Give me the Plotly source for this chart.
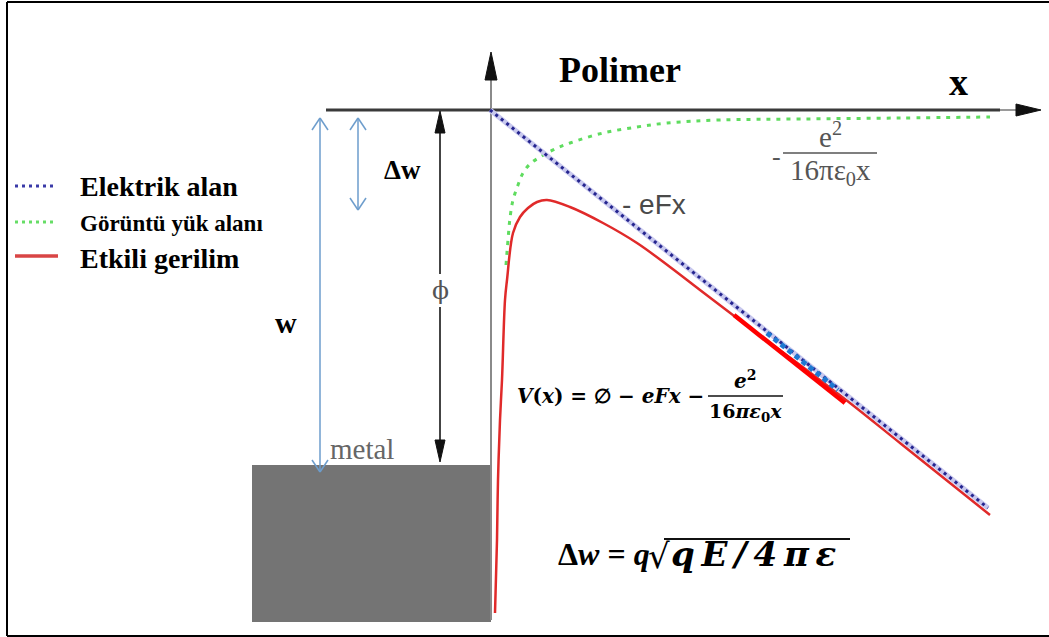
import plotly.graph_objects as go

W, H = 1049, 637

# ---- data (in picture pixel units) ----
red_x = [495, 497, 498, 500, 502, 505, 507, 513, 520, 528, 537, 547, 570, 603, 637, 670, 700, 750, 800, 850, 900, 950, 990]
red_y = [613, 540, 480, 420, 380, 300, 280, 233, 217, 208, 202, 200, 207, 223, 243, 267, 290, 328, 365, 403, 443, 483, 515]

green_x = [506, 508, 510, 513, 518, 523, 530, 540, 555, 570, 603, 637, 667, 720, 800, 900, 990]
green_y = [265, 240, 218, 200, 185, 173, 164, 157, 149, 143, 133, 127, 123, 120, 119, 118, 117]

blue_x = [490, 988]
blue_y = [110, 508]

red_thick_x = [734, 845]
red_thick_y = [315, 403]
blue_thick_x = [767, 838]
blue_thick_y = [333, 390]

legend_labels = ["Elektrik alan", "Görüntü yük alanı", "Etkili gerilim"]

fig = go.Figure()

# legend samples
fig.add_trace(go.Scatter(x=[15, 56], y=[186, 186], mode="lines",
                         line=dict(color="#3a3aa8", width=3, dash="3px,4px"), hoverinfo="skip"))
fig.add_trace(go.Scatter(x=[15, 56], y=[222, 222], mode="lines",
                         line=dict(color="#66dd66", width=3, dash="3px,4px"), hoverinfo="skip"))
fig.add_trace(go.Scatter(x=[15, 58], y=[256, 256], mode="lines",
                         line=dict(color="#d94545", width=3.5), hoverinfo="skip"))

# curves
fig.add_trace(go.Scatter(x=green_x, y=green_y, mode="lines", line_shape="spline",
                         line=dict(color="#5fdc5f", width=3, dash="4px,6px"), hoverinfo="skip"))
fig.add_trace(go.Scatter(x=red_x, y=red_y, mode="lines", line_shape="spline",
                         line=dict(color="#e02a2a", width=2.5), hoverinfo="skip"))
fig.add_trace(go.Scatter(x=blue_x, y=blue_y, mode="lines",
                         line=dict(color="#c8c8ee", width=5), hoverinfo="skip"))
fig.add_trace(go.Scatter(x=blue_x, y=blue_y, mode="lines",
                         line=dict(color="#25258f", width=3, dash="3px,4px"), hoverinfo="skip"))
fig.add_trace(go.Scatter(x=red_thick_x, y=red_thick_y, mode="lines",
                         line=dict(color="#ff0000", width=4.5), hoverinfo="skip"))
fig.add_trace(go.Scatter(x=blue_thick_x, y=blue_thick_y, mode="lines",
                         line=dict(color="#1f78d1", width=5, dash="5px,4px"), hoverinfo="skip"))

shapes = []
def line(x0, y0, x1, y1, color, width):
    shapes.append(dict(type="line", x0=x0, y0=y0, x1=x1, y1=y1, xref="x", yref="y",
                       line=dict(color=color, width=width), layer="below"))
def tri(path, color):
    shapes.append(dict(type="path", path=path, xref="x", yref="y",
                       fillcolor=color, line=dict(color=color, width=1), layer="above"))

# frame
line(7, 2, 1049, 2, "black", 2)
line(7, 2, 7, 636, "black", 2)
line(7, 636, 1049, 636, "black", 2)

# metal block
shapes.append(dict(type="rect", x0=252, y0=465, x1=491, y1=622, xref="x", yref="y",
                   fillcolor="#747474", line=dict(width=0), layer="below"))

# vertical axis
line(491, 620, 491, 78, "#8a8a8a", 2)
tri("M 485 80 L 497 80 L 491 52 Z", "#111111")
# horizontal axis
line(326, 110, 1000, 110, "#3a3a3a", 3)
line(1000, 110, 1018, 110, "#9a9a9a", 2)
tri("M 1016 104 L 1016 116 L 1041 110 Z", "#111111")

# phi arrow
line(440, 130, 440, 274, "#444444", 2)
line(440, 307, 440, 442, "#444444", 2)
tri("M 435 133 L 445 133 L 440 111 Z", "#111111")
tri("M 435 440 L 445 440 L 440 462 Z", "#111111")

# light blue arrows
lb = "#6d9dcc"
for (xx, y0, y1) in [(320, 118, 472), (358, 118, 210)]:
    line(xx, y0, xx, y1, lb, 1.5)
    line(xx, y0, xx - 8, y0 + 12, lb, 1.5)
    line(xx, y0, xx + 8, y0 + 12, lb, 1.5)
    line(xx, y1, xx - 8, y1 - 12, lb, 1.5)
    line(xx, y1, xx + 8, y1 - 12, lb, 1.5)

# fraction bars
line(783, 153, 877, 153, "#555555", 1.5)
line(708, 396, 783, 396, "#111111", 1.5)
line(664, 539, 850, 539, "#111111", 2)

ann = []
def text(x, y, s, size, color="black", family="Liberation Serif", xanchor="center"):
    ann.append(dict(x=x, y=y, xref="x", yref="y", text=s, showarrow=False,
                    font=dict(size=size, color=color, family=family),
                    xanchor=xanchor, yanchor="middle"))

sp = "\u2009"
text(620, 70, "<b>Polimer</b>", 36)
text(958, 82, "<b>x</b>", 38)
text(78, 186, "<b>" + legend_labels[0] + "</b>", 28, xanchor="left")
text(78, 223, "<b>" + legend_labels[1] + "</b>", 23, xanchor="left")
text(78, 258, "<b>" + legend_labels[2] + "</b>", 28, xanchor="left")
text(402, 170, "<b>Δw</b>", 27)
text(286, 322, "<b>w</b>", 30)
text(362, 449, "metal", 29, color="#666666")
text(440, 290, "ϕ", 25, color="#555555", family="DejaVu Serif")
text(620, 204, "- eFx", 28, color="#4a4a4a", family="Liberation Sans", xanchor="left")
text(776, 156, "-", 26, color="#555555")
text(830, 135, "e<sup>2</sup>", 29, color="#555555")
text(830, 172, "16πε<sub>0</sub>x", 29, color="#555555")
text(706, 396, "<b><i>V</i>(<i>x</i>) = ∅ − <i>eFx</i> −</b>", 20, family="DejaVu Serif", xanchor="right")
text(745, 380, "<b><i>e</i><sup>2</sup></b>", 20, family="DejaVu Serif")
text(745, 412, "<b>16<i>πε</i><sub>0</sub><i>x</i></b>", 19, family="DejaVu Serif")
text(652, 554, "<b>Δ<i>w</i> = <i>q</i></b>", 32, family="Liberation Serif", xanchor="right")
text(659, 556, "√", 34, family="DejaVu Serif")
text(669, 554, "<b><i>q" + sp + "E" + sp + "/" + sp + "4" + sp + "π" + sp + "ε</i></b>", 34,
     family="DejaVu Serif", xanchor="left")

fig.update_layout(
    width=W, height=H, margin=dict(l=0, r=0, t=0, b=0),
    paper_bgcolor="white", plot_bgcolor="white", showlegend=False,
    xaxis=dict(range=[0, W], visible=False, fixedrange=True),
    yaxis=dict(range=[H, 0], visible=False, fixedrange=True),
    shapes=shapes, annotations=ann,
)
fig.write_html("out.html", config={"displayModeBar": False},
               post_script="document.body.style.margin='0';document.body.style.overflow='hidden';")
